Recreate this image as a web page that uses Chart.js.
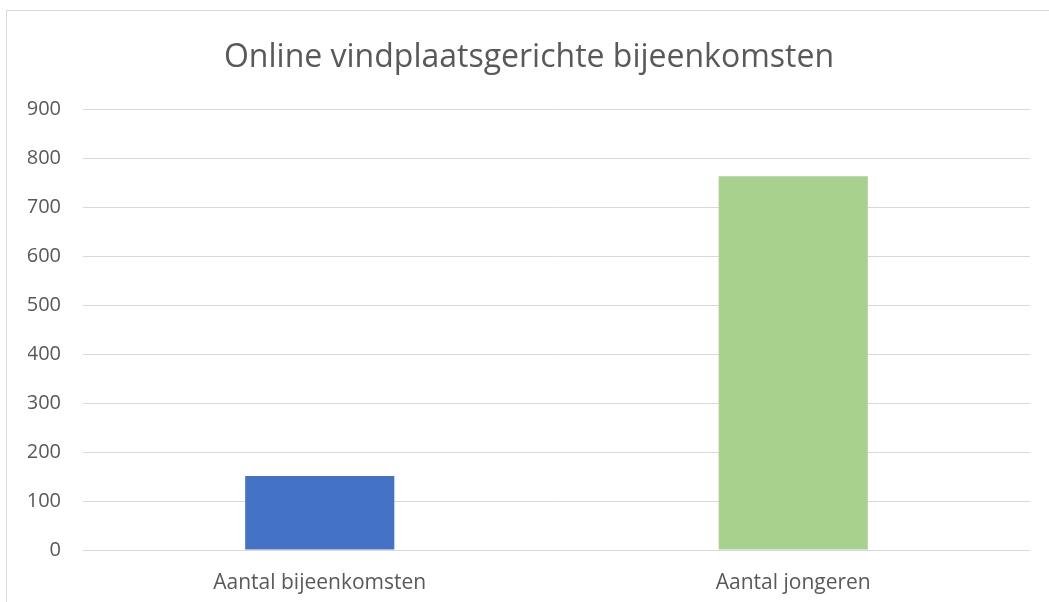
<!DOCTYPE html>
<html>
<head>
<meta charset="utf-8">
<script src="https://cdn.jsdelivr.net/npm/chart.js@4/dist/chart.umd.min.js"></script>
<style>
    html, body { margin: 0; padding: 0; background: #fff; overflow: hidden; }
    #wrap { position: relative; width: 1049px; height: 602px; overflow: hidden; }
    #frame { position: absolute; left: 6px; top: 10px; width: 1060px; height: 620px; border: 1px solid #d9d9d9; pointer-events: none; }
</style>
</head>
<body>
<div id="wrap">
    <canvas id="chart" width="1049" height="602"></canvas>
    <div id="frame"></div>
</div>
<script>
    // Gegevens uit de grafiek
    const categories = ['Aantal bijeenkomsten', 'Aantal jongeren'];
    const values = [151, 763];
    const barColors = ['#4472C4', '#A9D18E'];
    const yTicks = [0, 100, 200, 300, 400, 500, 600, 700, 800, 900];

    const textColor = '#595959';

    const ctx = document.getElementById('chart').getContext('2d');
    new Chart(ctx, {
        type: 'bar',
        data: {
            labels: categories,
            datasets: [{
                data: values,
                backgroundColor: barColors,
                categoryPercentage: 0.315,
                barPercentage: 1
            }]
        },
        options: {
            responsive: false,
            animation: false,
            layout: {
                // links extra ruimte zodat de titel iets naar rechts schuift
                padding: { left: 28, right: 19, top: 0, bottom: 0 }
            },
            plugins: {
                legend: { display: false },
                tooltip: { enabled: false },
                title: {
                    display: true,
                    text: 'Online vindplaatsgerichte bijeenkomsten',
                    color: textColor,
                    font: { family: 'Open Sans', size: 32, weight: 'normal' },
                    padding: { top: 39, bottom: 31.6 }
                }
            },
            scales: {
                x: {
                    afterFit: function (scale) {
                        scale.height = 52;
                    },
                    grid: { display: false, drawTicks: false },
                    border: { display: false },
                    ticks: {
                        color: textColor,
                        padding: 20,
                        font: { family: 'Open Sans', size: 21 }
                    }
                },
                y: {
                    min: 0,
                    max: 900,
                    afterBuildTicks: function (scale) {
                        scale.ticks = yTicks.map(v => ({ value: v }));
                    },
                    afterFit: function (scale) {
                        scale.width = 55;
                    },
                    grid: { color: '#d9d9d9', lineWidth: 1, drawTicks: false },
                    border: { display: false },
                    ticks: {
                        color: textColor,
                        padding: 22,
                        font: { family: 'Open Sans', size: 20 }
                    }
                }
            }
        }
    });
</script>
</body>
</html>
